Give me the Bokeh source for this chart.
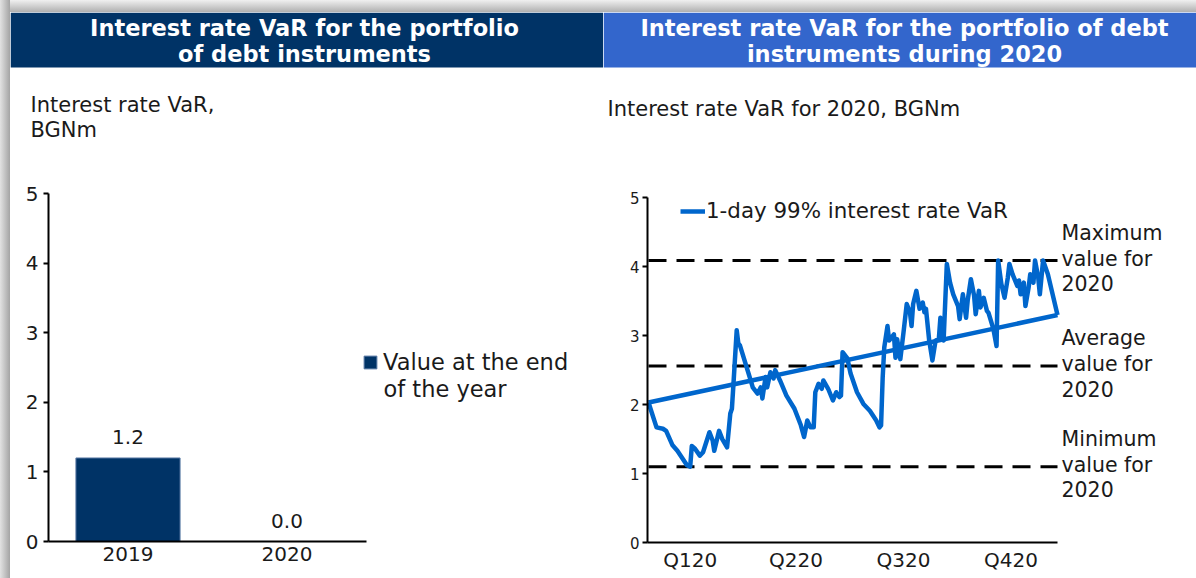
from bokeh.plotting import figure
from bokeh.models import Range1d, FixedTicker, Legend, LegendItem, ColumnDataSource, Spacer
from bokeh.layouts import row, column
from bokeh.core.properties import value
from bokeh.embed import file_html
from bokeh.resources import INLINE

FONT = "DejaVu Sans"
NAVY = "#003366"
HDR_BLUE = "#3366cc"
LINE_BLUE = "#0066cc"
TXT = "#1a1a1a"

# ---------------- data ----------------
years = ["2019", "2020"]
var_end_of_year = [1.2, 0.0]

days = [0, 5, 9, 11, 15, 18, 24, 26, 27, 29,
        32, 34, 38, 40, 41, 44, 46, 49, 51, 52,
        53, 55, 56, 57, 64, 65, 68, 70, 71, 73,
        74, 76, 78, 79, 82, 86, 91, 95, 97, 99,
        101, 103, 104, 106, 108, 109, 112, 115, 117, 119,
        120, 121, 124, 126, 130, 134, 138, 142, 144,
        145, 146, 147, 149, 150, 153, 154, 155, 157, 159,
        161, 163, 164, 165, 167, 169, 171, 172, 173, 175,
        177, 179, 181, 182, 184, 186, 188, 190, 193, 194,
        196, 198, 199, 201, 203, 204, 206, 207, 209, 211,
        212, 215, 217, 218, 220, 222, 224, 225, 227, 230,
        231, 232, 234, 235, 237, 238, 240, 241, 243, 244,
        246, 249, 255]
var_2020 = [2.03, 1.67, 1.65, 1.62, 1.41, 1.33, 1.12, 1.10, 1.40, 1.36,
            1.26, 1.31, 1.60, 1.48, 1.33, 1.62, 1.50, 1.38, 1.87, 1.94,
            2.31, 3.08, 2.89, 2.86, 2.33, 2.25, 2.16, 2.25, 2.09, 2.40,
            2.25, 2.47, 2.38, 2.50, 2.35, 2.13, 1.94, 1.70, 1.53, 1.77,
            1.67, 1.67, 2.18, 2.30, 2.23, 2.35, 2.23, 2.06, 2.18, 2.11,
            2.13, 2.76, 2.67, 2.45, 2.18, 2.01, 1.91, 1.77, 1.67,
            1.70, 2.39, 2.83, 3.14, 2.93, 3.02, 2.68, 2.95, 2.66, 3.05,
            3.46, 3.34, 3.14, 3.46, 3.65, 3.39, 3.48, 3.34, 3.39, 2.93,
            2.64, 2.93, 2.95, 3.26, 2.93, 4.04, 3.77, 3.60, 3.43, 3.24,
            3.60, 3.26, 3.51, 3.82, 3.58, 3.31, 3.65, 3.41, 3.55, 3.36,
            3.33, 3.10, 2.85, 4.09, 3.75, 3.55, 3.84, 4.04, 3.89, 3.72,
            3.80, 3.60, 3.77, 3.43, 3.70, 3.89, 3.77, 4.09, 3.84, 3.60,
            4.09, 3.89, 3.30]
assert len(days) == len(var_2020)

max_2020 = 4.09
avg_2020 = 2.56
min_2020 = 1.10
level_values = [max_2020, avg_2020, min_2020]
level_labels = ["Maximum\nvalue for\n2020", "Average\nvalue for\n2020", "Minimum\nvalue for\n2020"]

quarter_labels = ["Q120", "Q220", "Q320", "Q420"]
quarter_tick_days = [26, 92, 159, 226]

y_ticks = [0, 1, 2, 3, 4, 5]

HDR_H = 138
CHART_H = 428
LEFT_W = 593
RIGHT_W = 593


# ---------------- header blocks ----------------
def header(width, bg, title_lines, cx, sub_lines, sub_x, sub_y):
    h = HDR_H
    p = figure(width=width, height=h, x_range=Range1d(0, width), y_range=Range1d(h, 0),
               output_backend="svg", toolbar_location=None, min_border=0,
               x_axis_type=None, y_axis_type=None, frame_align=False)
    p.grid.visible = False
    p.outline_line_color = None
    p.quad(left=[0], right=[width], top=[0], bottom=[55], fill_color=bg, line_color=None)
    p.text(x=[cx] * len(title_lines), y=[15 + 26 * i for i in range(len(title_lines))],
           text=title_lines, text_font=value(FONT), text_font_style="bold",
           text_font_size="22.5px", text_color="white", text_align="center",
           text_baseline="middle")
    p.text(x=[sub_x] * len(sub_lines), y=[sub_y + 25 * i for i in range(len(sub_lines))],
           text=sub_lines, text_font=value(FONT), text_font_size="21px",
           text_color=TXT, text_align="left", text_baseline="middle")
    return p


hl = header(LEFT_W, NAVY, ["Interest rate VaR for the portfolio", "of debt instruments"], 294,
            ["Interest rate VaR,", "BGNm"], 20, 92)
hr = header(RIGHT_W, HDR_BLUE, ["Interest rate VaR for the portfolio of debt", "instruments during 2020"], 301,
            ["Interest rate VaR for 2020, BGNm"], 4, 96)


def style_axes(p, ysize):
    for ax in (p.xaxis[0], p.yaxis[0]):
        ax.axis_line_width = 2
        ax.axis_line_color = "black"
        ax.major_tick_line_width = 2
        ax.major_tick_in = 0
        ax.minor_tick_in = 0
        ax.minor_tick_out = 0
        ax.major_label_text_font = FONT
        ax.major_label_text_color = TXT
    p.yaxis[0].major_tick_out = 5
    p.yaxis[0].major_label_text_font_size = ysize
    p.xaxis[0].major_tick_out = 0
    p.xaxis[0].major_label_text_font_size = "20px"
    p.grid.visible = False
    p.outline_line_color = None


# ---------------- left chart ----------------
PX_L = 159.0      # pixels per category
PY_L = 69.6       # pixels per BGNm
L_LEFT = 38
l_frame_h = 391
L_BOTTOM = CHART_H - l_frame_h
l_frame_w = LEFT_W - L_LEFT
pl = figure(width=LEFT_W, height=CHART_H, x_range=Range1d(0.5, 0.5 + l_frame_w / PX_L),
            y_range=Range1d(0, l_frame_h / PY_L), output_backend="svg", toolbar_location=None,
            min_border_left=L_LEFT, min_border_right=0, min_border_top=0,
            min_border_bottom=L_BOTTOM, frame_align=False)
style_axes(pl, "20px")
pl.yaxis[0].major_label_standoff = 5
pl.xaxis[0].major_label_standoff = 5
pl.yaxis[0].bounds = (0, 5)
pl.yaxis[0].ticker = FixedTicker(ticks=y_ticks)
pl.xaxis[0].bounds = (0.5, 0.5 + len(years))
pl.xaxis[0].ticker = FixedTicker(ticks=list(range(1, len(years) + 1)))
pl.xaxis[0].major_label_overrides = {i + 1: y for i, y in enumerate(years)}

src = ColumnDataSource(dict(x=list(range(1, len(years) + 1)), top=var_end_of_year,
                            lab=[f"{v:.1f}" for v in var_end_of_year]))
bars = pl.vbar(x="x", top="top", bottom=0, width=0.655, source=src,
               fill_color=NAVY, line_color="#5a7aa5", line_width=1)
pl.text(x="x", y="top", text="lab", source=src, text_font=value(FONT), text_font_size="20px",
        text_color=TXT, text_align="center", text_baseline="bottom", y_offset=-14)

leg_l = Legend(items=[LegendItem(label="Value at the end", renderers=[bars])],
               location=(314, 166), glyph_width=16, glyph_height=16, label_standoff=5,
               padding=0, margin=0, spacing=0, border_line_color=None,
               background_fill_alpha=0, label_text_font=FONT, label_text_font_size="22.5px",
               label_text_color=TXT, label_text_line_height=1.2)
pl.add_layout(leg_l)
# second line of the legend text, placed under the first one
leg_x = 0.5 + (383 - 48) / PX_L
leg_y2 = (541 - 388) / PY_L
pl.text(x=[leg_x], y=[leg_y2], text=["of the year"], text_font=value(FONT),
        text_font_size="22.5px", text_color=TXT, text_align="left", text_baseline="middle")

# ---------------- right chart ----------------
PX_R = 409 / 255.0    # pixels per trading day
PY_R = 68.94          # pixels per BGNm
R_LEFT = 44
r_frame_h = 392
R_BOTTOM = CHART_H - r_frame_h
r_frame_w = RIGHT_W - R_LEFT
x0 = -1 / PX_R
pr = figure(width=RIGHT_W, height=CHART_H, x_range=Range1d(x0, x0 + r_frame_w / PX_R),
            y_range=Range1d(0, r_frame_h / PY_R), output_backend="svg", toolbar_location=None,
            min_border_left=R_LEFT, min_border_right=0, min_border_top=0,
            min_border_bottom=R_BOTTOM, frame_align=False)
style_axes(pr, "15px")
pr.yaxis[0].major_label_standoff = 3
pr.xaxis[0].major_label_standoff = 5
pr.yaxis[0].bounds = (0, 5)
pr.yaxis[0].ticker = FixedTicker(ticks=y_ticks)
pr.xaxis[0].bounds = (x0, days[-1])
pr.xaxis[0].ticker = FixedTicker(ticks=quarter_tick_days)
pr.xaxis[0].major_label_overrides = dict(zip(quarter_tick_days, quarter_labels))

pr.segment(x0=[0] * 3, x1=[days[-1]] * 3, y0=level_values, y1=level_values,
           line_color="black", line_width=3, line_dash="18 10")
ln = pr.line(days, var_2020, line_color=LINE_BLUE, line_width=4.5, line_join="round")
pr.line([days[-1], days[0]], [var_2020[-1], var_2020[0]], line_color=LINE_BLUE,
        line_width=4.5, line_join="round")
pr.text(x=[days[-1]] * 3, y=level_values, text=level_labels, x_offset=4, y_offset=-2,
        text_font=value(FONT), text_font_size="20.5px", text_color=TXT,
        text_align="left", text_baseline="middle", text_line_height=1.07)

leg_r = Legend(items=[LegendItem(label="1-day 99% interest rate VaR", renderers=[ln])],
               location=(33, 319), glyph_width=25, glyph_height=20, label_standoff=1,
               padding=0, margin=0, spacing=0, border_line_color=None,
               background_fill_alpha=0, label_text_font=FONT, label_text_font_size="21.4px",
               label_text_color=TXT)
pr.add_layout(leg_r)

# ---------------- page frame (grey shadow edges) ----------------
left_shadow = Spacer(width=10, height=HDR_H + CHART_H + 12,
                     styles={"background": "linear-gradient(to right, #e2e2e2, #a4a4a4)"})
top_shadow = Spacer(width=LEFT_W + RIGHT_W, height=12,
                    styles={"background": "linear-gradient(to bottom, #f0f0f0, #b0b0b0)"})

layout = row(left_shadow, column(top_shadow, row(column(hl, pl), column(hr, pr))))
open("out.html", "w").write(file_html(layout, INLINE))
